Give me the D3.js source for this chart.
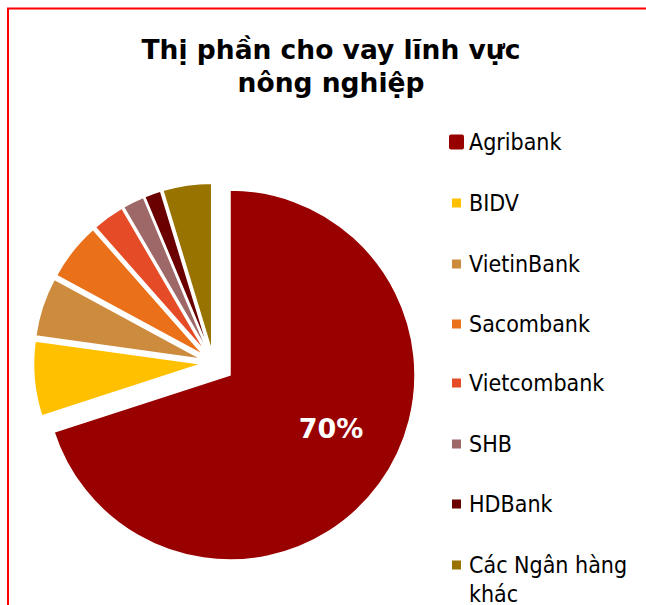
<!DOCTYPE html>
<html><head><meta charset="utf-8">
<script src="https://cdn.jsdelivr.net/npm/d3@7"></script>
<style>
body{margin:0;background:#fff;}
svg{display:block;}
</style></head><body>
<svg id="chart" width="646" height="605"></svg>
<script>
const categories = ["Agribank","BIDV","VietinBank","Sacombank","Vietcombank","SHB","HDBank","Các Ngân hàng khác"];
const values = [70, 7.2, 5.7, 5.6, 3.1, 2.1, 1.6, 4.7];
const colors = ["#990000","#FFC000","#CD8B3E","#EA7119","#E54B26","#9E6868","#6B0000","#997300"];
const titleLines = ["Thị phần cho vay lĩnh vực","nông nghiệp"];
const legendLines = [["Agribank"],["BIDV"],["VietinBank"],["Sacombank"],["Vietcombank"],["SHB"],["HDBank"],["Các Ngân hàng","khác"]];

const FONT = "'DejaVu Sans Condensed','DejaVu Sans',sans-serif";
const FONTB = "'DejaVu Sans',sans-serif";
const svg = d3.select("#chart");

// border
svg.append("rect").attr("x",8).attr("y",8.5).attr("width",660).attr("height",620)
  .attr("fill","none").attr("stroke","#FF0000").attr("stroke-width",2);

// title
svg.append("text").attr("x",331).attr("y",59).attr("text-anchor","middle")
  .attr("font-family",FONTB).attr("font-weight","bold").attr("font-size",26.5)
  .selectAll("tspan").data(titleLines).join("tspan")
  .attr("x",331).attr("dy",(d,i)=>i?33:0).text(d=>d);

// pie
const cx = 213.5, cy = 363;
const pie = d3.pie().sort(null).value(d=>d).startAngle(0).endAngle(2*Math.PI);
const arcs = pie(values);
const rSmall = 168, rBig = 185;
const g = svg.append("g");
arcs.forEach((a,i)=>{
  const mid = (a.startAngle+a.endAngle)/2;
  const d = i===0 ? 20.4 : 12;
  const ox = cx + Math.sin(mid)*d, oy = cy - Math.cos(mid)*d;
  const r = i===0 ? rBig : rSmall;
  g.append("path").attr("transform",`translate(${ox},${oy})`)
    .attr("d", d3.arc().innerRadius(0).outerRadius(r)(a))
    .attr("fill",colors[i]).attr("stroke","#fff").attr("stroke-width",1.5).attr("stroke-linejoin","round");
});
svg.append("text").attr("x",331).attr("y",438).attr("text-anchor","middle")
  .attr("font-family",FONTB).attr("font-weight","bold").attr("font-size",27)
  .attr("fill","#fff").text(Math.round(values[0])+"%");

// legend
const ly = [142,203,264,324,383,444,504,565];
const leg = svg.append("g");
categories.forEach((c,i)=>{
  const s = i===0 ? 15 : 9;
  leg.append("rect").attr("x",456.5-s/2).attr("y",ly[i]-s/2).attr("width",s).attr("height",s)
    .attr("rx",i===0?2:0).attr("fill",colors[i]);
  const t = leg.append("text").attr("x",469).attr("y",ly[i]+8)
    .attr("font-family",FONT).attr("font-size",23).attr("fill","#000");
  legendLines[i].forEach((l,j)=>t.append("tspan").attr("x",469).attr("dy",j?28.5:0).text(l));
});
</script></body></html>
